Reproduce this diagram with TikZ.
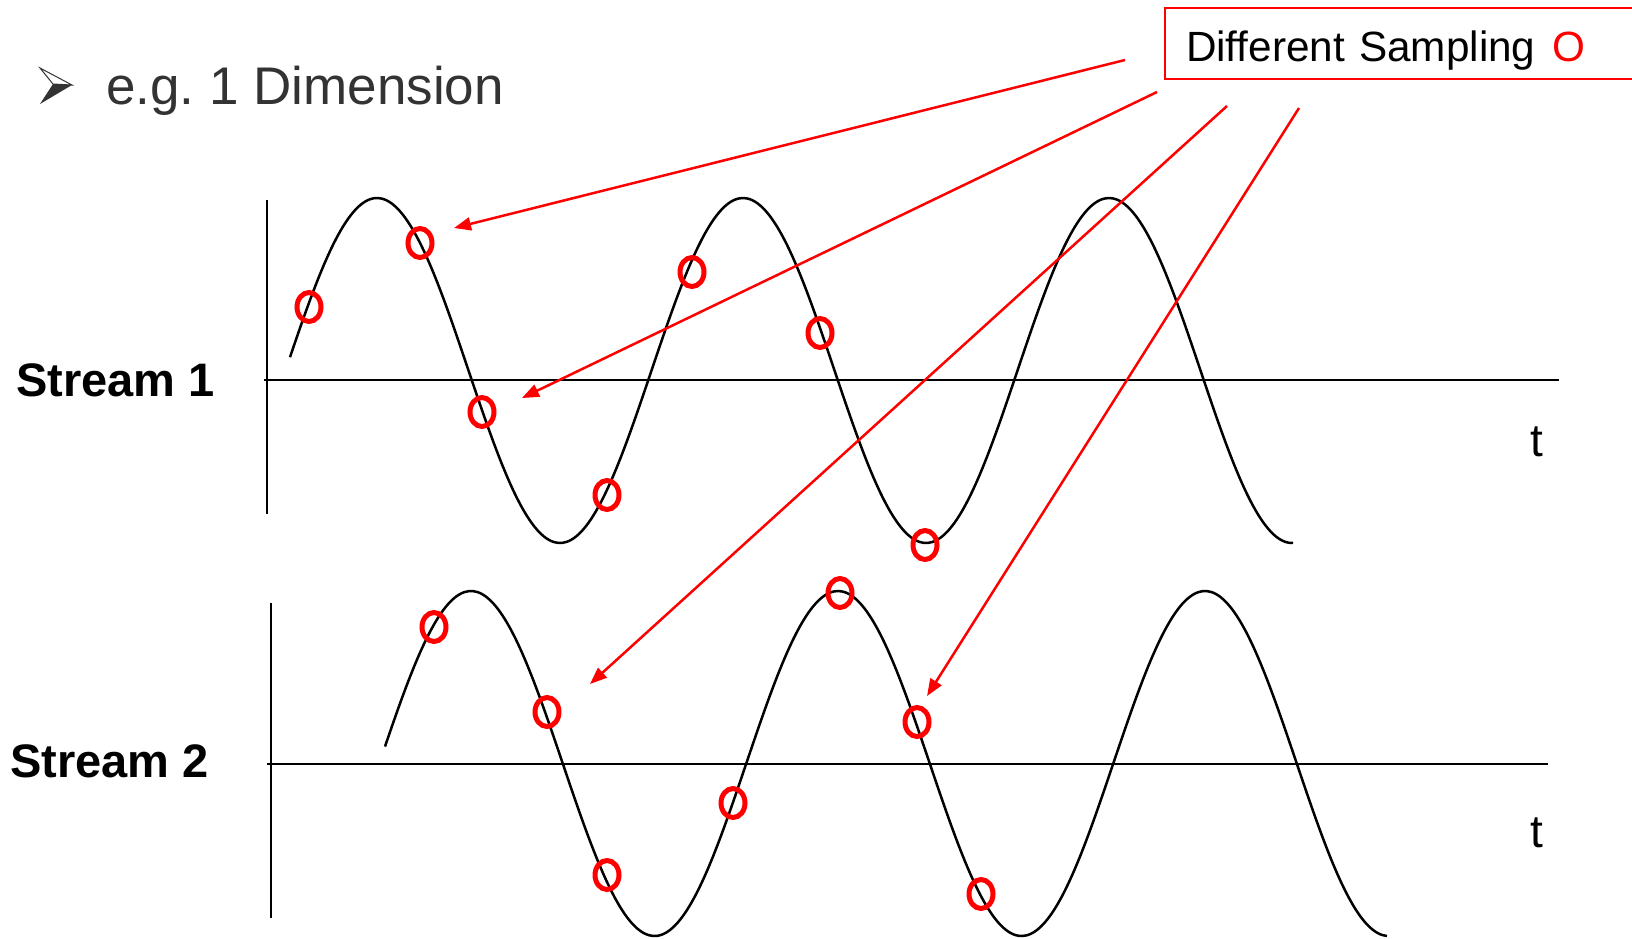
\documentclass[tikz,border=0pt]{standalone}
\usepackage{fontspec}
\setmainfont{Liberation Sans}
\usepackage{tikz}
\usetikzlibrary{shapes.geometric, arrows.meta, positioning}
\definecolor{sampred}{RGB}{255,0,0}
\definecolor{titlegray}{RGB}{51,51,51}
\frenchspacing
\tikzset{
  axisline/.style={line width=2pt,color=black},
  wavecurve/.style={line width=2.5pt,color=black},
  samplenode/.style={ellipse,draw=sampred,line width=5pt,minimum width=24pt,minimum height=29pt,inner sep=0pt},
  streamlabel/.style={anchor=base west,inner sep=0pt,font=\fontsize{47}{52}\selectfont\bfseries},
  tlabel/.style={anchor=base,inner sep=0pt,font=\fontsize{46}{52}\selectfont},
  legendbox/.style={draw=sampred,line width=2pt,anchor=north west,inner xsep=21pt,inner ysep=15pt,
    text width=440pt,align=left,text height=38pt,text depth=3pt,font=\fontsize{42.3}{50}\selectfont},
  redarr/.style={-{Triangle[length=17pt,width=13pt]},line width=2.5pt,color=sampred}
}
\begin{document}
\begin{tikzpicture}[x=1pt,y=-1pt]
  \useasboundingbox (0,0) rectangle (1632,938);

  %% Title with bullet
  \filldraw[draw=titlegray,fill=white,line width=1pt] (40,68) -- (72,85) -- (53,84) -- cycle;
  \fill[titlegray] (53,84) -- (72,85) -- (40,104) -- cycle;
  \node[anchor=base west,inner sep=0pt,text=titlegray,font=\fontsize{53}{60}\selectfont] (title)
      at (106,104) {e.g. 1 Dimension};

  %% Legend
  \node[legendbox] (legend) at (1164,7) {Different Sampling\hspace{17pt}{\color{sampred}O}};

  %% Stream labels
  \node[streamlabel] (lab1) at (16,396) {Stream 1};
  \node[streamlabel] (lab2) at (10,777) {Stream 2};

  %% Axes
  \draw[axisline] (267,200) -- (267,514);
  \draw[axisline] (264,380) -- (1559,380);
  \draw[axisline] (271,603) -- (271,918);
  \draw[axisline] (267,764) -- (1548,764);
  \node[tlabel] (t1) at (1537,456) {t};
  \node[tlabel] (t2) at (1537,847) {t};

  %% Signals
  \draw[wavecurve] plot[domain=290:1293,samples=240,smooth]
      (\x,{370.5-172.5*cos((\x-377)/366*360)});
  \draw[wavecurve] plot[domain=385:1387,samples=240,smooth]
      (\x,{763.5-172.5*cos((\x-471)/367*360)});

  %% Sampling points
  \foreach \nm/\px/\py in {s1a/309/307, s1b/420/243, s1c/482/412, s1d/607/495,
                           s1e/692/272, s1f/820/333, s1g/925/545,
                           s2a/434/627, s2b/547/712, s2c/607/875, s2d/733/803,
                           s2e/840/593, s2f/917/722, s2g/981/894}
    \node[samplenode] (\nm) at (\px,\py) {};

  %% Pointers from legend
  \coordinate (a1s) at (1125,60);  \coordinate (a1e) at (454,228);
  \coordinate (a2s) at (1157,92);  \coordinate (a2e) at (522,398);
  \coordinate (a3s) at (1227,106); \coordinate (a3e) at (590,684);
  \coordinate (a4s) at (1299,108); \coordinate (a4e) at (927,696);
  \draw[redarr] (a1s) -- (a1e);
  \draw[redarr] (a2s) -- (a2e);
  \draw[redarr] (a3s) -- (a3e);
  \draw[redarr] (a4s) -- (a4e);
\end{tikzpicture}
\end{document}
